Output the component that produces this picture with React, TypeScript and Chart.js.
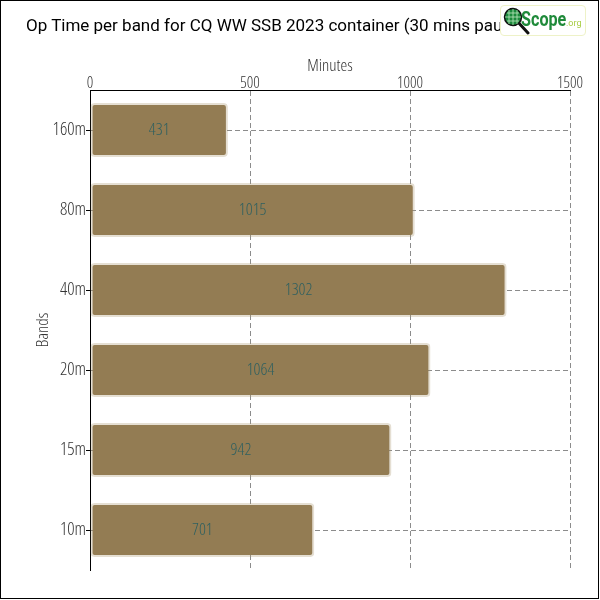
import React, { useEffect, useRef } from "react";
import { Chart, registerables } from "chart.js";

Chart.register(...registerables);

const chartTitle = "Op Time per band for CQ WW SSB 2023 container (30 mins pause)";
const xAxisTitle = "Minutes";
const yAxisTitle = "Bands";
const categories = ["160m", "80m", "40m", "20m", "15m", "10m"];
const minutes = [431, 1015, 1302, 1064, 942, 701];
const xMin = 0;
const xMax = 1500;
const xStep = 500;

const BAR_COLOR = "#937c53";
const LABEL_COLOR = "#2f6060";
const THIN_FAMILY = "'Open Sans', Roboto, sans-serif";
const thinFont = (size: number) => ({ family: THIN_FAMILY, size, weight: "300 condensed" as any });

const valueLabels = {
  id: "valueLabels",
  afterDatasetsDraw(chart: any) {
    const ctx = chart.ctx;
    const meta = chart.getDatasetMeta(0);
    ctx.save();
    ctx.font = `300 condensed 17px ${THIN_FAMILY}`;
    ctx.fillStyle = LABEL_COLOR;
    ctx.textAlign = "center";
    ctx.textBaseline = "middle";
    meta.data.forEach((bar: any, i: number) => {
      const p = bar.getProps(["x", "y", "base"], true);
      ctx.fillText(String(minutes[i]), (p.x + p.base) / 2, p.y);
    });
    ctx.restore();
  },
};

export default function App() {
  const ref = useRef<HTMLCanvasElement | null>(null);
  useEffect(() => {
    if (!ref.current) return;
    const chart = new Chart(ref.current, {
      type: "bar",
      data: {
        labels: categories,
        datasets: [
          {
            data: minutes,
            backgroundColor: BAR_COLOR,
            borderColor: "rgba(170,150,110,0.3)",
            borderWidth: 2,
            borderRadius: 4,
            borderSkipped: false,
            barPercentage: 0.84,
            categoryPercentage: 0.8,
          },
        ],
      },
      options: {
        indexAxis: "y",
        responsive: false,
        animation: false,
        layout: { padding: { top: 0, left: 0, right: 30, bottom: 30 } },
        plugins: {
          legend: { display: false },
          title: { display: false },
          tooltip: { enabled: false },
        },
        scales: {
          x: {
            position: "top",
            min: xMin,
            max: xMax,
            afterFit: (s: any) => {
              s.height = 90;
            },
            ticks: {
              stepSize: xStep,
              padding: -3,
              color: "#333",
              font: thinFont(16),
              callback: (v: any) => String(v),
            },
            title: {
              display: true,
              text: xAxisTitle,
              color: "#333",
              font: thinFont(17),
              padding: { top: 56, bottom: 0 },
            },
            grid: {
              color: "rgba(0,0,0,0.45)",
              lineWidth: 1,
              drawTicks: false,
            },
            border: { display: true, color: "#000", width: 1, dash: [5, 3] },
          },
          y: {
            afterFit: (s: any) => {
              s.width = 90;
            },
            ticks: {
              padding: 0,
              color: "#333",
              font: thinFont(18),
            },
            title: {
              display: true,
              text: yAxisTitle,
              color: "#333",
              font: thinFont(17),
              padding: { top: 33, bottom: 0 },
            },
            grid: {
              offset: false,
              color: "rgba(0,0,0,0.45)",
              lineWidth: 1,
              tickColor: "#000",
              tickLength: 4,
              tickBorderDash: [],
            },
            border: { display: true, color: "#000", width: 1, dash: [5, 3] },
          },
        },
      },
      plugins: [valueLabels],
    });
    return () => chart.destroy();
  }, []);

  return (
    <div style={{ position: "absolute", left: 0, top: 0, width: 600, height: 600, background: "#fff", overflow: "hidden" }}>
      <canvas ref={ref} width={600} height={600} style={{ position: "absolute", left: 0, top: 0, width: 600, height: 600 }} />
      <div
        style={{
          position: "absolute",
          left: 26,
          top: 15,
          width: 474,
          whiteSpace: "nowrap",
          overflow: "hidden",
          fontFamily: "Roboto, sans-serif",
          fontSize: 17,
          color: "#000",
          lineHeight: "20px",
        }}
      >
        {chartTitle}
      </div>
      <div
        style={{
          position: "absolute",
          left: 500,
          top: 5,
          width: 86,
          height: 31,
          boxSizing: "border-box",
          border: "1px solid #eef2c8",
          borderRadius: 4,
          background: "#fff",
          overflow: "hidden",
        }}
      >
        <svg width="30" height="30" style={{ position: "absolute", left: 1, top: 0 }} viewBox="0 0 30 30">
          <line x1="15" y1="15" x2="26" y2="27" stroke="#111" strokeWidth="3" strokeLinecap="round" />
          <circle cx="11" cy="11" r="8.5" fill="#1c8a3c" stroke="#111" strokeWidth="1.5" />
          <path d="M3 11 H19 M11 3 V19 M5 7 H17 M5 15 H17 M7 4 V18 M15 4 V18" stroke="#bfe8bf" strokeWidth="0.8" />
        </svg>
        <span
          style={{
            position: "absolute",
            left: 20,
            top: 1,
            fontFamily: "Roboto, sans-serif",
            fontWeight: 700,
            fontSize: 21,
            lineHeight: "24px",
            color: "#1f8a3a",
            transform: "scaleX(0.77)",
            transformOrigin: "left center",
            whiteSpace: "nowrap",
          }}
        >
          Scope
        </span>
        <span
          style={{
            position: "absolute",
            left: 65,
            top: 12,
            fontFamily: "Roboto, sans-serif",
            fontSize: 9,
            lineHeight: "10px",
            color: "#a6cc40",
          }}
        >
          .org
        </span>
      </div>
      <div
        style={{
          position: "absolute",
          left: 0,
          top: 0,
          width: 599,
          height: 599,
          boxSizing: "border-box",
          border: "1px solid #000",
          pointerEvents: "none",
        }}
      />
    </div>
  );
}
